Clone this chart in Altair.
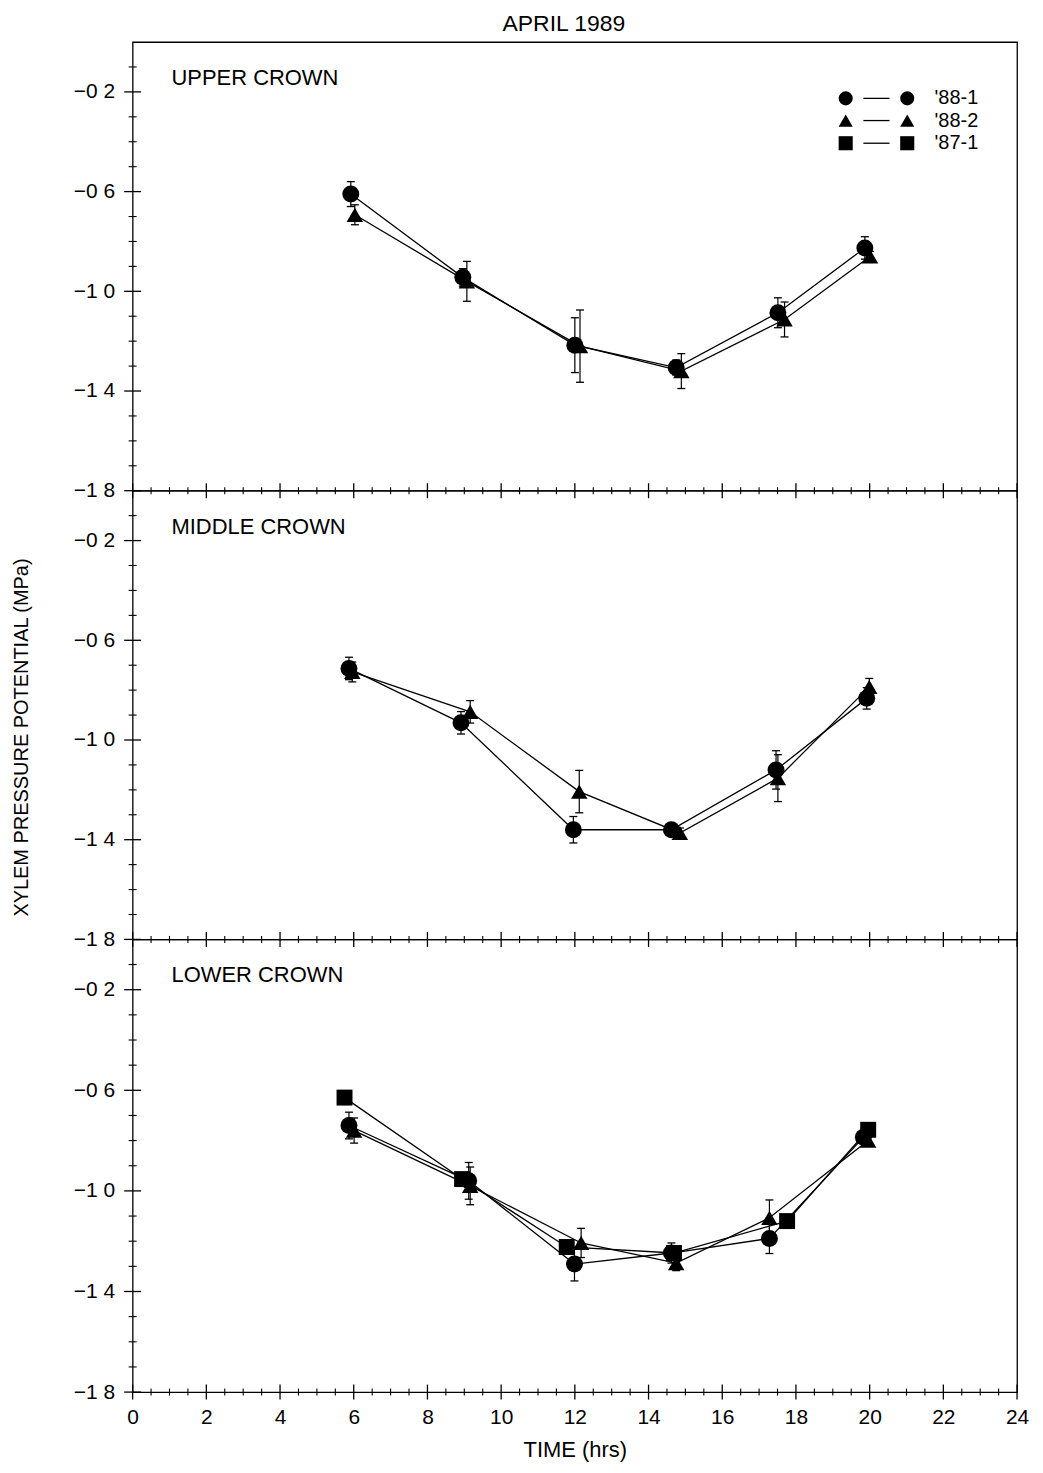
import altair as alt
import pandas as pd

FONT = "Liberation Sans"
SERIES = ["'88-1", "'88-2", "'87-1"]
SHAPES = ["circle", "triangle-up", "square"]
SIZES = [289, 256, 310]

# ---------------- data (time in hrs, xylem pressure potential in MPa, +/- error) -------------
# UPPER CROWN
up_t_881 = [5.92, 8.96, 12.00, 14.75, 17.51, 19.87]
up_v_881 = [-0.610, -0.944, -1.216, -1.306, -1.086, -0.826]
up_e_881 = [0.05, 0.035, 0.11, 0.03, 0.06, 0.045]
up_t_882 = [6.03, 9.07, 12.14, 14.89, 17.69, 20.01]
up_v_882 = [-0.693, -0.960, -1.220, -1.320, -1.113, -0.860]
up_e_882 = [0.04, 0.08, 0.145, 0.07, 0.07, 0.02]

# MIDDLE CROWN
mid_t_881 = [5.87, 8.91, 11.96, 14.62, 17.46, 19.92]
mid_v_881 = [-0.713, -0.931, -1.360, -1.360, -1.120, -0.833]
mid_e_881 = [0.045, 0.045, 0.053, 0.02, 0.077, 0.043]
mid_t_882 = [5.96, 9.16, 12.12, 14.85, 17.51, 19.99]
mid_v_882 = [-0.727, -0.887, -1.207, -1.373, -1.153, -0.787]
mid_e_882 = [0.04, 0.045, 0.085, 0.02, 0.094, 0.034]

# LOWER CROWN
low_t_881 = [5.87, 9.12, 11.99, 14.62, 17.28, 19.83]
low_v_881 = [-0.740, -0.960, -1.291, -1.247, -1.189, -0.787]
low_e_881 = [0.053, 0.073, 0.067, 0.04, 0.06, 0.02]
low_t_882 = [6.01, 9.16, 12.17, 14.75, 17.28, 19.96]
low_v_882 = [-0.760, -0.980, -1.207, -1.287, -1.107, -0.800]
low_e_882 = [0.05, 0.075, 0.058, 0.03, 0.071, 0.02]
low_t_871 = [5.75, 8.94, 11.78, 14.69, 17.76, 19.96]
low_v_871 = [-0.629, -0.953, -1.223, -1.247, -1.120, -0.757]
low_e_871 = [0, 0, 0, 0, 0, 0]

# axis ticks
X_MAJOR = list(range(0, 25, 2))
X_MINOR = [i * 0.5 for i in range(49) if i % 4 != 0]
Y_MAJOR = [-0.2, -0.6, -1.0, -1.4, -1.8]
Y_MINOR = [-0.1, -0.3, -0.4, -0.5, -0.7, -0.8, -0.9, -1.1, -1.2, -1.3, -1.5, -1.6, -1.7]

# legend (placed in data units)
LEG_Y = [-0.226, -0.315, -0.406]
LEG_X_SYM = [19.35, 21.02]
LEG_X_LINE = [19.83, 20.54]
LEG_X_TEXT = 21.76

XS = alt.Scale(domain=[0, 24], nice=False, zero=False)
YS = alt.Scale(domain=[-1.8, 0], nice=False, zero=False)


def build_panel(label, series, bottom=False, ytitle=None, legend=False, title=None, height=450):
    if bottom:
        xaxis = alt.Axis(values=X_MAJOR, ticks=False, domain=False, grid=False,
                         labelPadding=15, labelFontSize=21, labelFont=FONT, labelFlush=False,
                         title="TIME (hrs)", titleFontSize=22, titleFont=FONT,
                         titleFontWeight="normal", titlePadding=12)
    else:
        xaxis = None
    ykw = dict(values=Y_MAJOR, format=".1f", labelExpr="replace(datum.label, '.', ' ')",
               ticks=False, domain=False, grid=False, labelPadding=18,
               labelFontSize=21, labelFont=FONT, labelFlush=False)
    if ytitle:
        ykw.update(title=ytitle, titleFontSize=20, titleFont=FONT,
                   titleFontWeight="normal", titlePadding=42, titleY=247)
    else:
        ykw.update(title=None)
    yaxis = alt.Axis(**ykw)

    def X(f="x"):
        return alt.X(f"{f}:Q", scale=XS, axis=xaxis)

    def Y(f="y"):
        return alt.Y(f"{f}:Q", scale=YS, axis=yaxis)

    rows = []
    for s, t, v, e in series:
        for ti, vi, ei in zip(t, v, e):
            rows.append(dict(x=ti, y=vi, series=s, lo=vi - ei, hi=vi + ei, e=ei))
    pdf = pd.DataFrame(rows)
    err = pdf[pdf.e > 0]
    caps = pd.concat([err[["x", "lo"]].rename(columns={"lo": "y"}),
                      err[["x", "hi"]].rename(columns={"hi": "y"})])

    xmaj = pd.DataFrame({"x": X_MAJOR, "y": -1.8})
    xmin = pd.DataFrame({"x": X_MINOR, "y": -1.8})
    ymaj = pd.DataFrame({"x": 0.0, "y": Y_MAJOR})
    ymin = pd.DataFrame({"x": 0.0, "y": Y_MINOR})

    layers = [
        alt.Chart(xmaj).mark_tick(orient="vertical", size=15, thickness=1.3, color="black", opacity=1).encode(x=X(), y=Y()),
        alt.Chart(xmin).mark_tick(orient="vertical", size=7, thickness=1.1, color="black", opacity=1).encode(x=X(), y=Y()),
        alt.Chart(ymaj).mark_tick(orient="horizontal", size=17, thickness=1.3, color="black", opacity=1).encode(x=X(), y=Y()),
        alt.Chart(ymin).mark_tick(orient="horizontal", size=8, thickness=1.1, color="black", opacity=1).encode(x=X(), y=Y()),
        alt.Chart(pdf).mark_line(color="black", strokeWidth=1.3).encode(
            x=X(), y=Y(), detail="series:N", order="x:Q"),
        alt.Chart(err).mark_rule(color="black", strokeWidth=1.2).encode(
            x=X(), y=Y("lo"), y2=alt.Y2("hi:Q")),
        alt.Chart(caps).mark_tick(orient="horizontal", size=8, thickness=1.3, color="black", opacity=1).encode(
            x=X(), y=Y()),
        alt.Chart(pdf).mark_point(filled=True, opacity=1, color="black", strokeWidth=0).encode(
            x=X(), y=Y(),
            shape=alt.Shape("series:N", scale=alt.Scale(domain=SERIES, range=SHAPES), legend=None),
            size=alt.Size("series:N", scale=alt.Scale(domain=SERIES, range=SIZES), legend=None)),
        alt.Chart(pd.DataFrame({"label": [label[0]]})).mark_text(
            align="left", baseline="middle", fontSize=22, font=FONT, color="black").encode(
            x=alt.value(39), y=alt.value(label[1]), text="label:N"),
    ]

    if legend:
        lpts, llines, ltext = [], [], []
        for s, yy in zip(SERIES, LEG_Y):
            for xx in LEG_X_SYM:
                lpts.append(dict(x=xx, y=yy, series=s))
            llines.append(dict(x=LEG_X_LINE[0], x2=LEG_X_LINE[1], y=yy))
            ltext.append(dict(x=LEG_X_TEXT, y=yy, label=s))
        layers += [
            alt.Chart(pd.DataFrame(llines)).mark_rule(color="black", strokeWidth=1.3).encode(
                x=X(), x2=alt.X2("x2:Q"), y=Y()),
            alt.Chart(pd.DataFrame(lpts)).mark_point(filled=True, opacity=1, color="black", strokeWidth=0).encode(
                x=X(), y=Y(),
                shape=alt.Shape("series:N", scale=alt.Scale(domain=SERIES, range=SHAPES), legend=None),
                size=alt.value(200)),
            alt.Chart(pd.DataFrame(ltext)).mark_text(
                align="left", baseline="middle", fontSize=20, font=FONT, color="black").encode(
                x=X(), y=Y(), text="label:N"),
        ]

    props = dict(width=887, height=height)
    if title:
        props["title"] = alt.TitleParams(text=title, fontSize=23, font=FONT, fontWeight="normal",
                                         anchor="middle", frame="group", offset=6, dx=-11,
                                         color="black")
    return alt.layer(*layers).properties(**props)


p1 = build_panel(("UPPER CROWN", 36),
                 [(SERIES[0], up_t_881, up_v_881, up_e_881),
                  (SERIES[1], up_t_882, up_v_882, up_e_882)],
                 legend=True, title="APRIL 1989")
p2 = build_panel(("MIDDLE CROWN", 36),
                 [(SERIES[0], mid_t_881, mid_v_881, mid_e_881),
                  (SERIES[1], mid_t_882, mid_v_882, mid_e_882)],
                 ytitle="XYLEM PRESSURE POTENTIAL (MPa)")
p3 = build_panel(("LOWER CROWN", 36),
                 [(SERIES[0], low_t_881, low_v_881, low_e_881),
                  (SERIES[1], low_t_882, low_v_882, low_e_882),
                  (SERIES[2], low_t_871, low_v_871, low_e_871)],
                 bottom=True, height=454)

chart = alt.vconcat(p1, p2, p3, spacing=0, bounds="flush").properties(
    padding={"left": 2, "top": 2, "right": 5, "bottom": 5}
).configure_view(stroke="black", strokeWidth=1.3).configure_axis(
    labelColor="black", titleColor="black"
)

chart.save("out.html", embed_options={"renderer": "svg", "actions": False})
